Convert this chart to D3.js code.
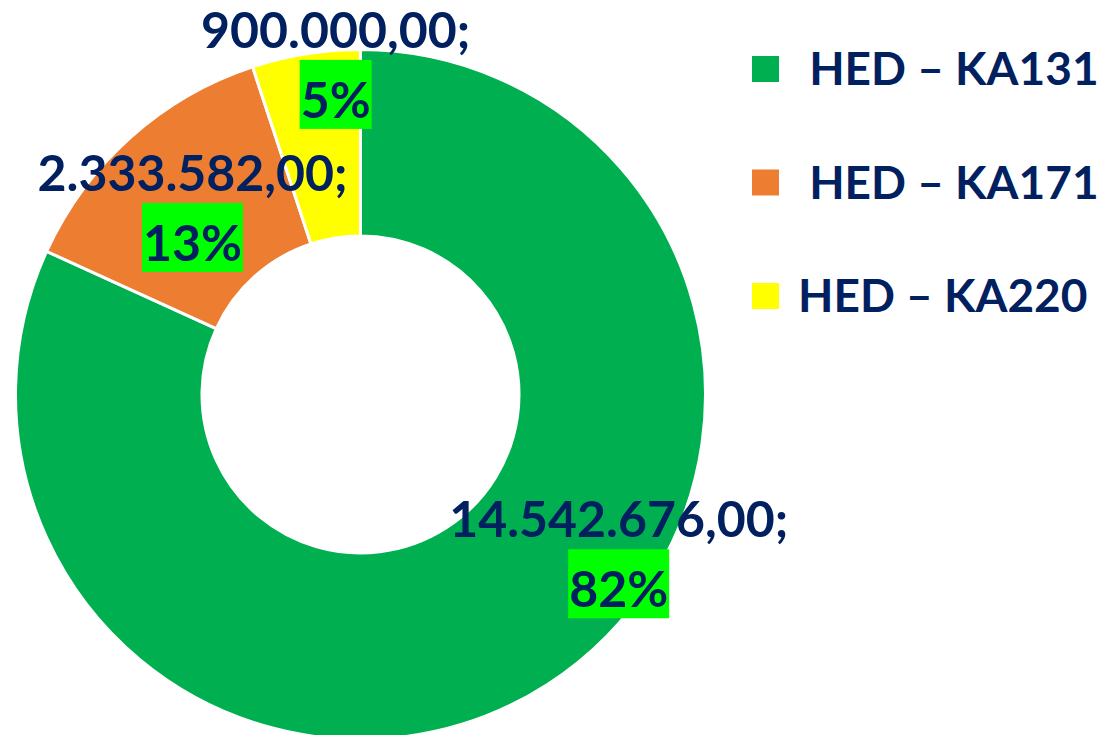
<!DOCTYPE html>
<html>
<head>
<meta charset="utf-8">
<script src="https://cdn.jsdelivr.net/npm/d3@7"></script>
<style>
  html, body { margin: 0; padding: 0; background: #fff; }
  svg { display: block; }
  text { font-family: Lato, "Open Sans", sans-serif; font-weight: 700; fill: #002060; }
</style>
</head>
<body>
<div id="chart"></div>
<script>
// Chart data
const categories = ["HED – KA131", "HED – KA171", "HED – KA220"];
const legendLabels = ["\u00a0HED – KA131", "\u00a0HED – KA171", "HED – KA220"];
const values = [14542676, 2333582, 900000];
const valueLabels = ["14.542.676,00;", "2.333.582,00;", "900.000,00;"];
const percentLabels = ["82%", "13%", "5%"];
const colors = ["#00B050", "#ED7D31", "#FFFF00"];

// Layout
const width = 1114, height = 735;
const center = { x: 360.5, y: 394.5 };
const outerRadius = 345, innerRadius = 158.5;
// label nudges away from slice centroid (Excel best-fit placement)
const labelNudge = [[122, -53], [0, 0], [15, -82]];
const fontSize = 50;
const lineGap = 70;

const svg = d3.select("#chart").append("svg")
  .attr("width", width)
  .attr("height", height)
  .attr("viewBox", `0 0 ${width} ${height}`);

const data = categories.map((c, i) => ({ category: c, value: values[i], index: i }));

const pie = d3.pie().sort(null).value((d) => d.value);
const arc = d3.arc().innerRadius(innerRadius).outerRadius(outerRadius);

const plot = svg.append("g").attr("transform", `translate(${center.x},${center.y})`);

const arcs = pie(data);

plot.selectAll("path.slice")
  .data(arcs)
  .join("path")
  .attr("class", "slice")
  .attr("d", arc)
  .attr("fill", (d) => colors[d.data.index])
  .attr("stroke", "#fff")
  .attr("stroke-width", 3)
  .attr("stroke-linejoin", "miter");

// Data labels: value line + highlighted percent
const labels = plot.selectAll("g.label")
  .data(arcs)
  .join("g")
  .attr("class", "label")
  .attr("transform", (d) => {
    const [cx, cy] = arc.centroid(d);
    const [nx, ny] = labelNudge[d.data.index];
    return `translate(${cx + nx},${cy + ny - 16})`;
  });

labels.append("text")
  .attr("text-anchor", "middle")
  .attr("font-size", fontSize)
  .text((d) => valueLabels[d.data.index]);

labels.each(function (d) {
  const g = d3.select(this);
  const box = g.append("rect").attr("fill", "#00FF00");
  const t = g.append("text")
    .attr("text-anchor", "middle")
    .attr("font-size", fontSize)
    .attr("y", lineGap)
    .text(percentLabels[d.data.index]);
  const w = t.node().getComputedTextLength();
  box.attr("x", -w / 2 - 1)
    .attr("width", w + 2)
    .attr("y", lineGap - 58)
    .attr("height", 69);
});

// Legend
const legendY = d3.scalePoint().domain(categories).range([69, 296]);

const legend = svg.append("g").attr("class", "legend");
const items = legend.selectAll("g.item")
  .data(categories)
  .join("g")
  .attr("class", "item")
  .attr("transform", (d) => `translate(0,${legendY(d)})`);

items.append("rect")
  .attr("x", 752)
  .attr("y", -13)
  .attr("width", 27)
  .attr("height", 26)
  .attr("fill", (d, i) => colors[i]);

items.append("text")
  .attr("x", 798)
  .attr("y", 16)
  .attr("font-size", 46)
  .style("white-space", "pre")
  .text((d, i) => legendLabels[i]);
</script>
</body>
</html>
